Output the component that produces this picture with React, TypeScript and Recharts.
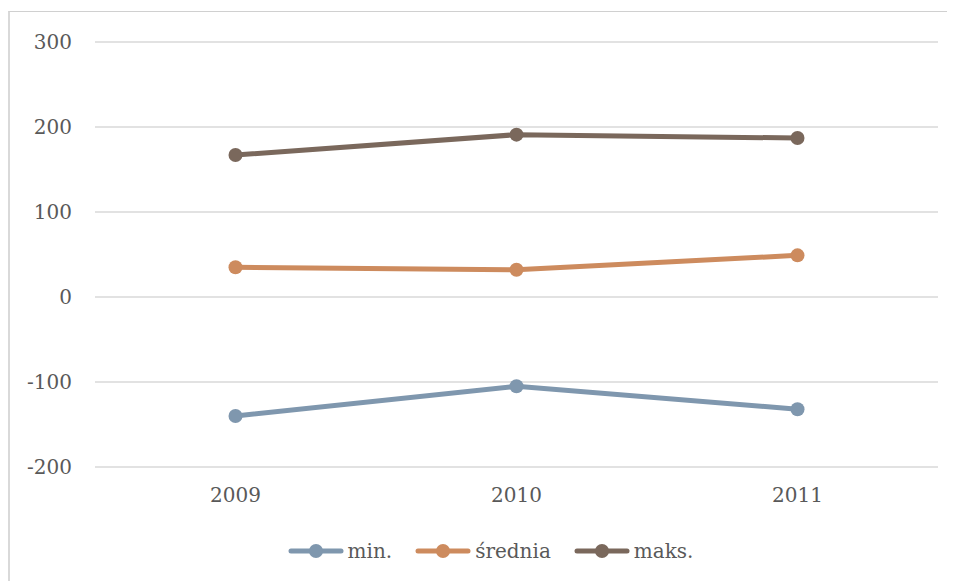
import {CartesianGrid, Legend, Line, LineChart, XAxis, YAxis} from 'recharts';

const years = ['2009', '2010', '2011'];
const minValues = [-140, -105, -132];
const avgValues = [35, 32, 49];
const maxValues = [167, 191, 187];
const yTicks = [-200, -100, 0, 100, 200, 300];

const series = [
  { key: 'min', name: 'min.', color: '#7f97ae' },
  { key: 'avg', name: 'średnia', color: '#cd8b5e' },
  { key: 'max', name: 'maks.', color: '#7a685c' },
];

const data = years.map((year, i) => ({
  year,
  min: minValues[i],
  avg: avgValues[i],
  max: maxValues[i],
}));

const FONT = '"DejaVu Serif", "Liberation Serif", serif';
const TEXT = '#595959';

function LegendContent() {
  return (
    <div style={{ height: 40, paddingLeft: 32, display: 'flex', justifyContent: 'center', alignItems: 'center', gap: 22, fontFamily: FONT, fontSize: 20, color: TEXT }}>
      {series.map(s => (
        <div key={s.key} style={{ display: 'flex', alignItems: 'center' }}>
          <svg width={58} height={16} style={{ marginRight: 3 }}>
            <line x1={4} y1={8} x2={54} y2={8} stroke={s.color} strokeWidth={5} strokeLinecap="round" />
            <circle cx={29} cy={8} r={7} fill={s.color} />
          </svg>
          <span>{s.name}</span>
        </div>
      ))}
    </div>
  );
}

export default function App() {
  return (
    <div style={{ position: 'relative', marginTop: 3, width: 960, height: 580, borderTop: '1px solid #d0d0d0', borderLeft: '2px solid #d9d9d9', background: '#fff' }}>
      <LineChart width={946} height={569} data={data} margin={{ top: 30, right: 18, left: 0, bottom: 10 }}>
        <CartesianGrid vertical={false} stroke="#d9d9d9" strokeWidth={1.5} />
        <XAxis
          dataKey="year"
          scale="band"
          axisLine={false}
          tickLine={false}
          tickSize={0}
          tickMargin={21}
          height={64}
          tick={{ fill: TEXT, fontSize: 20, fontFamily: FONT }}
        />
        <YAxis
          domain={[-200, 300]}
          ticks={yTicks}
          axisLine={false}
          tickLine={false}
          tickSize={0}
          tickMargin={23}
          width={85}
          tick={{ fill: TEXT, fontSize: 20, fontFamily: FONT }}
        />
        <Legend verticalAlign="bottom" content={<LegendContent />} />
        {series.map(s => (
          <Line
            key={s.key}
            dataKey={s.key}
            name={s.name}
            stroke={s.color}
            strokeWidth={5}
            dot={{ r: 7, fill: s.color, stroke: s.color, strokeWidth: 0 }}
            activeDot={false}
            isAnimationActive={false}
          />
        ))}
      </LineChart>
    </div>
  );
}
